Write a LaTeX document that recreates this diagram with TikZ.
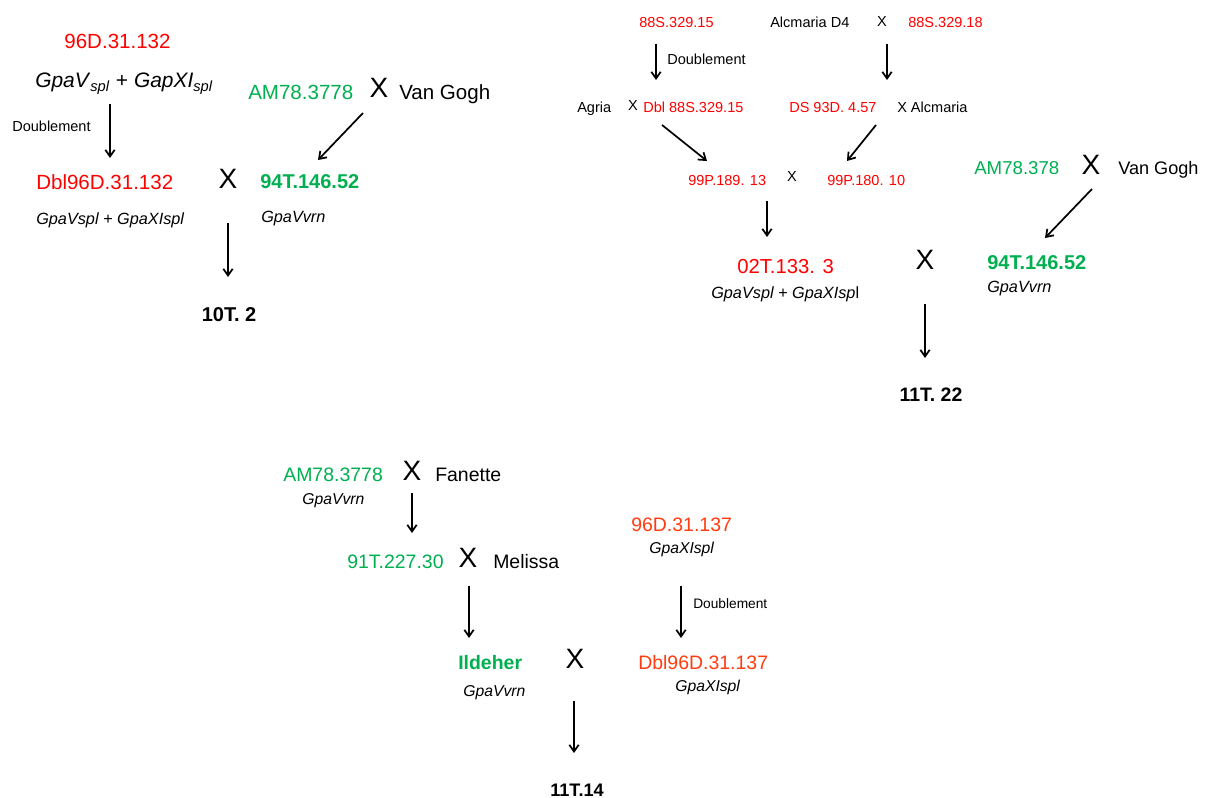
\documentclass[tikz,border=0pt]{standalone}
\usepackage{fontspec}
\setmainfont{Liberation Sans}
\usetikzlibrary{arrows.meta}
\definecolor{cred}{HTML}{FF0000}
\definecolor{cgreen}{HTML}{00B050}
\definecolor{corange}{HTML}{FF3B10}
\newcommand{\fs}[1]{\fontsize{#1pt}{#1pt}\selectfont}
\tikzset{
  t/.style={inner sep=0pt, anchor=west, text height=1.036em, text depth=0pt},
  big/.style={t, font=\fs{15.4}},
  mid/.style={t, font=\fs{14.6}},
  sm/.style={t, font=\fs{10.9}},
  itx/.style={t, font=\fs{12.2}\itshape},
  bld/.style={t, font=\fs{15}\bfseries},
  cross/.style={inner sep=0pt, anchor=center, text height=1.036em, text depth=0pt, font=\fs{21}},
  arr/.style={line width=1.3pt, -{Straight Barb[length=5pt,width=7pt,line width=1.3pt]}},
}
\begin{document}
\begin{tikzpicture}[x=0.75pt,y=-0.75pt]
\useasboundingbox (0,0) rectangle (1209,798);
% ---------- top left ----------
\node[big,text=cred,anchor=center] (a1) at (117.5,42) {96D.31.132};
\node[t,font=\fs{15.7}] (a2) at (35,80.5) {\textit{GpaV}\textsubscript{\textit{spl}} + \textit{GapXI}\textsubscript{\textit{spl}}};
\node[sm] (a3) at (12,125) {Doublement};
\node[big,text=cgreen] (a4) at (248,93) {AM78.3778};
\node[cross] (a5) at (379,91) {X};
\node[big] (a6) at (399,93) {Van Gogh};
\node[big,text=cred] (a7) at (36,183) {Dbl96D.31.132};
\node[cross] (a8) at (228,182) {X};
\node[bld,text=cgreen] (a9) at (260,182) {94T.146.52};
\node[itx] (a10) at (36,218) {GpaVspl + GpaXIspl};
\node[itx] (a11) at (261,216) {GpaVvrn};
\node[bld,anchor=center] (a12) at (229,315) {10T. 2};
\coordinate (a2s) at (110,104); \coordinate (a7n) at (110,158);
\coordinate (a5s) at (363,113); \coordinate (a9n) at (318,160);
\coordinate (a8s) at (228,223); \coordinate (a12n) at (228,277);
\draw[arr] (a2s) -- (a7n);
\draw[arr] (a5s) -- (a9n);
\draw[arr] (a8s) -- (a12n);
% ---------- top right ----------
\node[sm,text=cred] (b1) at (639,21) {88S.329.15};
\node[sm] (b2) at (770,21) {Alcmaria D4};
\node[cross,font=\fs{10.9}] (b3) at (882,20) {X};
\node[sm,text=cred] (b4) at (908,21) {88S.329.18};
\node[sm] (b5) at (667,58) {Doublement};
\node[sm] (b6) at (577,106) {Agria};
\node[cross,font=\fs{10.9}] (b7) at (633,104) {X};
\node[sm,text=cred] (b8) at (643,106) {Dbl 88S.329.15};
\node[sm,text=cred] (b9) at (789,106) {DS 93D. 4.57};
\node[sm] (b10) at (897,106) {X Alcmaria};
\node[sm,text=cred] (b11) at (688,179) {99P.189. 13};
\node[cross,font=\fs{10.9}] (b12) at (792,175) {X};
\node[sm,text=cred] (b13) at (827,179) {99P.180. 10};
\node[t,font=\fs{14},text=cgreen] (b14) at (974,168) {AM78.378};
\node[cross] (b15) at (1091,168) {X};
\node[t,font=\fs{13.6}] (b16) at (1118,168) {Van Gogh};
\node[t,font=\fs{15.2},text=cred] (b17) at (737,267) {02T.133. 3};
\node[itx] (b18) at (711,292) {GpaVspl + GpaXIsp\upshape l};
\node[cross] (b19) at (925,263) {X};
\node[bld,text=cgreen] (b20) at (987,263) {94T.146.52};
\node[itx] (b21) at (987,286) {GpaVvrn};
\node[bld,anchor=center,font=\fs{14.6}\bfseries] (b22) at (931,395) {11T. 22};
\coordinate (b1s) at (656,44); \coordinate (b8n) at (656,80);
\coordinate (b4s) at (887,44); \coordinate (b9n) at (887,80);
\coordinate (b8s) at (662,125); \coordinate (b11n) at (707,161);
\coordinate (b9s) at (876,125); \coordinate (b13n) at (847,161);
\coordinate (b11s) at (767,201); \coordinate (b17n) at (767,237);
\coordinate (b15s) at (1092,189); \coordinate (b20n) at (1045,238);
\coordinate (b19s) at (925,304); \coordinate (b22n) at (925,358);
\draw[arr] (b1s) -- (b8n);
\draw[arr] (b4s) -- (b9n);
\draw[arr] (b8s) -- (b11n);
\draw[arr] (b9s) -- (b13n);
\draw[arr] (b11s) -- (b17n);
\draw[arr] (b15s) -- (b20n);
\draw[arr] (b19s) -- (b22n);
% ---------- bottom ----------
\node[mid,text=cgreen] (c1) at (283,475) {AM78.3778};
\node[cross] (c2) at (412,474) {X};
\node[mid] (c3) at (435,475) {Fanette};
\node[itx,font=\fs{11.8}\itshape] (c4) at (302,498) {GpaVvrn};
\node[mid,text=cgreen] (c5) at (347,562) {91T.227.30};
\node[cross] (c6) at (468,561) {X};
\node[mid] (c7) at (493,562) {Melissa};
\node[mid,text=corange] (c8) at (631,525) {96D.31.137};
\node[itx,font=\fs{11.8}\itshape] (c9) at (649,547) {GpaXIspl};
\node[t,font=\fs{10.3}] (c10) at (693,602) {Doublement};
\node[bld,font=\fs{14.6}\bfseries,text=cgreen] (c11) at (458,663) {Ildeher};
\node[cross] (c12) at (575,662) {X};
\node[mid,text=corange] (c13) at (638,663) {Dbl96D.31.137};
\node[itx,font=\fs{11.8}\itshape] (c14) at (463,690) {GpaVvrn};
\node[itx,font=\fs{11.8}\itshape] (c15) at (675,685) {GpaXIspl};
\node[bld,font=\fs{13.6}\bfseries] (c16) at (550,790) {11T.14};
\coordinate (c2s) at (412,493); \coordinate (c5n) at (412,533);
\coordinate (c6s) at (469,586); \coordinate (c11n) at (469,638);
\coordinate (c9s) at (681,586); \coordinate (c13n) at (681,638);
\coordinate (c12s) at (574,701); \coordinate (c16n) at (574,753);
\draw[arr] (c2s) -- (c5n);
\draw[arr] (c6s) -- (c11n);
\draw[arr] (c9s) -- (c13n);
\draw[arr] (c12s) -- (c16n);
\end{tikzpicture}
\end{document}
